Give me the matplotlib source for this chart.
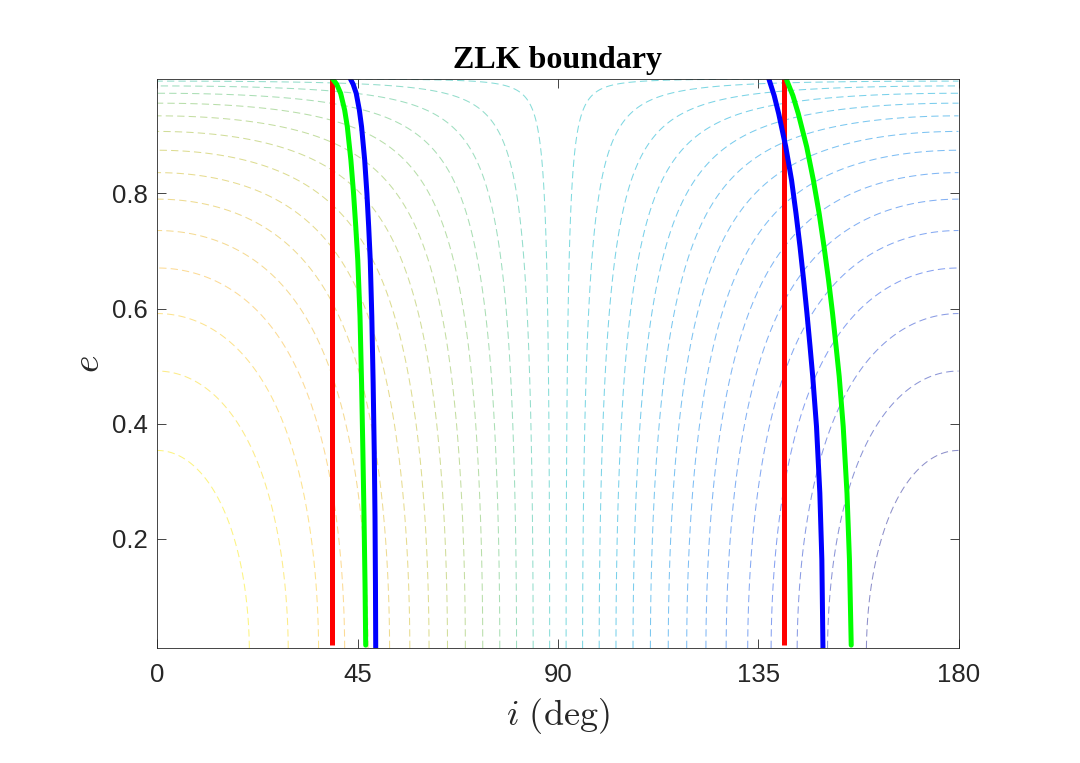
import matplotlib
matplotlib.use("Agg")
import matplotlib.pyplot as plt
import numpy as np
from matplotlib.colors import LinearSegmentedColormap

# parula-like colour map (MATLAB default)
parula_pts = [
    (0.000, (0.2081, 0.1663, 0.5292)),
    (0.125, (0.1500, 0.3300, 0.9000)),
    (0.250, (0.0900, 0.5300, 0.9300)),
    (0.375, (0.0400, 0.6600, 0.8600)),
    (0.500, (0.1000, 0.7500, 0.7600)),
    (0.625, (0.4300, 0.7700, 0.4300)),
    (0.750, (0.7824, 0.7500, 0.2000)),
    (0.875, (0.9888, 0.7400, 0.2447)),
    (1.000, (0.9763, 0.9831, 0.0538)),
]
parula = LinearSegmentedColormap.from_list("parula", parula_pts)

# contour levels of the Kozai constant sqrt(1-e^2) cos i
kozai_levels = np.linspace(-1, 1, 32)
e_min, e_max = 0.01, 0.999

# classical ZLK critical inclinations
red_i = [39.23, 140.77]
red_e = [0.015, 0.999]

# boundaries (e, i in deg)
green_left_e = [0.999, 0.99, 0.974, 0.945, 0.916, 0.858, 0.800, 0.742, 0.684, 0.586,
                0.471, 0.35, 0.238, 0.12, 0.015]
green_left_i = [39.4, 40.3, 41.2, 42.1, 42.7, 43.5, 44.1, 44.6, 45.05, 45.55,
                45.9, 46.2, 46.45, 46.68, 46.83]
blue_left_e = [0.999, 0.99, 0.974, 0.945, 0.916, 0.858, 0.800, 0.742, 0.684, 0.586,
               0.471, 0.35, 0.238, 0.12, 0.01]
blue_left_i = [43.4, 44.0, 44.7, 45.4, 45.9, 46.6, 47.1, 47.5, 47.85, 48.2,
               48.5, 48.75, 48.92, 49.02, 49.08]

green_right_e = [0.997, 0.97, 0.939, 0.881, 0.823, 0.765, 0.707, 0.650, 0.592, 0.534,
                 0.482, 0.395, 0.279, 0.164, 0.015]
green_right_i = [141.4, 142.8, 144.0, 145.9, 147.4, 148.7, 149.8, 150.8, 151.7, 152.5,
                 153.2, 154.1, 154.95, 155.5, 155.9]
blue_right_e = [0.999, 0.97, 0.939, 0.881, 0.823, 0.765, 0.707, 0.650, 0.592, 0.534,
                0.482, 0.395, 0.279, 0.164, 0.01]
blue_right_i = [137.4, 138.6, 139.6, 141.2, 142.5, 143.5, 144.4, 145.2, 145.95, 146.65,
                147.25, 148.1, 148.85, 149.3, 149.55]

x_ticks = [0, 45, 90, 135, 180]
y_ticks = [0.2, 0.4, 0.6, 0.8]

plt.rcParams['mathtext.fontset'] = 'cm'

fig = plt.figure(figsize=(10.8, 7.63), dpi=100)
ax = fig.add_axes([0.1456, 0.1507, 0.7419, 0.7458])

ii = np.linspace(0, 180, 721)
ee = np.linspace(e_min, e_max, 500)
I, E = np.meshgrid(ii, ee)
Z = np.cos(np.radians(I)) * np.sqrt(1 - E**2)
ax.contour(I, E, Z, levels=kozai_levels, cmap=parula, vmin=-1, vmax=1,
           linewidths=0.75, linestyles=[(0, (7, 4))], alpha=0.55)

for xi in red_i:
    ax.plot([xi, xi], red_e, color=(1, 0, 0), lw=3.6, solid_capstyle='butt')
ax.plot(green_left_i, green_left_e, color=(0, 1, 0), lw=3.6, solid_capstyle='round')
ax.plot(green_right_i, green_right_e, color=(0, 1, 0), lw=3.6, solid_capstyle='round')
ax.plot(blue_left_i, blue_left_e, color=(0, 0, 1), lw=3.6, solid_capstyle='round')
ax.plot(blue_right_i, blue_right_e, color=(0, 0, 1), lw=3.6, solid_capstyle='round')

ax.set_xlim(0, 180)
ax.set_ylim(e_min, e_max)
ax.set_xticks(x_ticks)
ax.set_yticks(y_ticks)
ax.set_xticklabels([str(t) for t in x_ticks], family='Liberation Sans', fontsize=18.5)
ax.set_yticklabels([f"{t:.1f}" for t in y_ticks], family='Liberation Sans', fontsize=18.5)
ax.tick_params(direction='in', length=6.5, width=0.6, top=True, right=True,
               colors='#262626')
ax.tick_params(axis='x', pad=11)
ax.tick_params(axis='y', pad=6.5)
for s in ax.spines.values():
    s.set_color('#262626')
    s.set_linewidth(0.6)

ax.set_xlabel(r'$i\ \mathrm{(deg)}$', fontsize=26, color='#262626', labelpad=6)
ax.set_ylabel(r'$e$', fontsize=27, color='#262626', labelpad=4)
ax.set_title('ZLK boundary', family='Liberation Serif', fontweight='bold',
             fontsize=23, pad=8)

fig.savefig("out.png", dpi=100)
